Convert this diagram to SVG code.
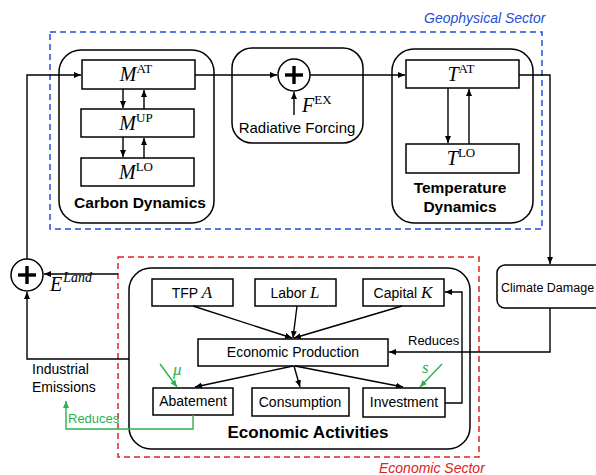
<svg xmlns="http://www.w3.org/2000/svg" width="596" height="475" viewBox="0 0 596 475">
<style>
.box{fill:#fff;stroke:#000;stroke-width:1.5}
.rbox{fill:none;stroke:#000;stroke-width:1.5}
.sans{font-family:"Liberation Sans",Arial,sans-serif;fill:#000}
.t14{font-size:14px}
.t13{font-size:13px}
.bold{font-weight:bold}
.math{font-family:"Liberation Serif","Times New Roman",serif;fill:#000}
.ln{fill:none;stroke:#000;stroke-width:1.4}
.gln{fill:none;stroke:#2eb04f;stroke-width:1.4}
.circ{fill:#fff;stroke:#000;stroke-width:1.5}
.plus{stroke:#000;stroke-width:3.4;stroke-linecap:butt}
</style>
<defs>
<marker id="ar" markerUnits="userSpaceOnUse" markerWidth="8" markerHeight="7" refX="7" refY="3" orient="auto">
<path d="M0,0 L7,3 L0,6 z" fill="#000"/>
</marker>
<marker id="ag" markerUnits="userSpaceOnUse" markerWidth="8" markerHeight="7" refX="7" refY="3" orient="auto">
<path d="M0,0 L7,3 L0,6 z" fill="#2eb04f"/>
</marker>
</defs>
<rect width="596" height="475" fill="#fff"/>

<g id="geophysical-sector">
<rect x="50" y="32" width="492" height="197" fill="none" stroke="#1f4fd6" stroke-width="1.5" stroke-dasharray="6,4"/>
<text x="424" y="23" class="sans t14" font-style="italic" style="fill:#1f4fd6">Geophysical Sector</text>
</g>
<g id="economic-sector">
<rect x="118" y="257" width="361" height="200" fill="none" stroke="#e02222" stroke-width="1.5" stroke-dasharray="6,4"/>
<text x="379" y="473" class="sans t14" font-style="italic" style="fill:#e02222">Economic Sector</text>
</g>

<g id="carbon-dynamics">
<rect x="59" y="50" width="155" height="173" rx="22" class="rbox"/>
<text x="140" y="208" text-anchor="middle" class="sans bold" font-size="15.5">Carbon Dynamics</text>
</g>
<g id="m-at">
<rect x="82" y="60" width="113" height="29" class="box"/>
<text x="136" y="81" text-anchor="middle" class="math"><tspan font-style="italic" font-size="20">M</tspan><tspan font-size="13" dy="-8">AT</tspan></text>
</g>
<g id="m-up">
<rect x="81" y="109" width="113" height="28" class="box"/>
<text x="136" y="130" text-anchor="middle" class="math"><tspan font-style="italic" font-size="20">M</tspan><tspan font-size="13" dy="-8">UP</tspan></text>
</g>
<g id="m-lo">
<rect x="81" y="158" width="113" height="28" class="box"/>
<text x="136" y="179" text-anchor="middle" class="math"><tspan font-style="italic" font-size="20">M</tspan><tspan font-size="13" dy="-8">LO</tspan></text>
</g>

<g id="radiative-forcing">
<rect x="232" y="48" width="131" height="95" rx="20" class="rbox"/>
<text x="297" y="133" text-anchor="middle" class="sans" font-size="15">Radiative Forcing</text>
</g>
<g id="sum-rf">
<circle cx="294" cy="75" r="16" class="circ"/>
<line x1="285" y1="75" x2="303" y2="75" class="plus"/>
<line x1="294" y1="66" x2="294" y2="84" class="plus"/>
</g>
<g id="f-ex">
<text x="302" y="112" class="math"><tspan font-style="italic" font-size="20">F</tspan><tspan font-size="13" dy="-8">EX</tspan></text>
</g>

<g id="temperature-dynamics">
<rect x="392" y="49" width="141" height="174" rx="22" class="rbox"/>
<text x="460" y="193" text-anchor="middle" class="sans bold" font-size="15.5">Temperature</text>
<text x="460" y="212" text-anchor="middle" class="sans bold" font-size="15.5">Dynamics</text>
</g>
<g id="t-at">
<rect x="406" y="60" width="113" height="28" class="box"/>
<text x="461" y="81" text-anchor="middle" class="math"><tspan font-style="italic" font-size="20">T</tspan><tspan font-size="13" dy="-8">AT</tspan></text>
</g>
<g id="t-lo">
<rect x="406" y="144" width="113" height="29" class="box"/>
<text x="461" y="165" text-anchor="middle" class="math"><tspan font-style="italic" font-size="20">T</tspan><tspan font-size="13" dy="-8">LO</tspan></text>
</g>

<g id="climate-damage">
<rect x="497" y="265" width="110" height="43" rx="8" class="box"/>
<text x="501" y="292" class="sans" font-size="12.5">Climate Damage</text>
</g>

<g id="economic-activities">
<rect x="129" y="268" width="341" height="181" rx="22" class="rbox"/>
<text x="308" y="438" text-anchor="middle" class="sans bold" font-size="17">Economic Activities</text>
</g>
<g id="tfp">
<rect x="152" y="279" width="81" height="27" class="box"/>
<text x="192" y="298" text-anchor="middle" class="sans t14">TFP <tspan class="math" font-style="italic" font-size="17">A</tspan></text>
</g>
<g id="labor">
<rect x="255" y="279" width="81" height="27" class="box"/>
<text x="295" y="298" text-anchor="middle" class="sans t14">Labor <tspan class="math" font-style="italic" font-size="17">L</tspan></text>
</g>
<g id="capital">
<rect x="363" y="279" width="81" height="27" class="box"/>
<text x="403" y="298" text-anchor="middle" class="sans t14">Capital <tspan class="math" font-style="italic" font-size="17">K</tspan></text>
</g>
<g id="economic-production">
<rect x="198" y="339" width="190" height="27" class="box"/>
<text x="293" y="357" text-anchor="middle" class="sans t14">Economic Production</text>
</g>
<g id="abatement">
<rect x="153" y="388" width="80" height="27" class="box"/>
<text x="193" y="406" text-anchor="middle" class="sans t14">Abatement</text>
</g>
<g id="consumption">
<rect x="252" y="388" width="97" height="28" class="box"/>
<text x="300" y="407" text-anchor="middle" class="sans t14">Consumption</text>
</g>
<g id="investment">
<rect x="363" y="388" width="82" height="29" class="box"/>
<text x="404" y="407" text-anchor="middle" class="sans t14">Investment</text>
</g>

<g id="sum-emissions">
<circle cx="27" cy="275" r="16" class="circ"/>
<line x1="18" y1="275" x2="36" y2="275" class="plus"/>
<line x1="27" y1="266" x2="27" y2="284" class="plus"/>
</g>
<g id="e-land">
<text x="50" y="291" class="math"><tspan font-style="italic" font-size="20">E</tspan><tspan font-style="italic" font-size="14" dx="1" dy="-9">Land</tspan></text>
</g>
<g id="industrial-emissions">
<text x="32" y="374" class="sans t14">Industrial</text>
<text x="32" y="392" class="sans t14">Emissions</text>
</g>

<g id="connectors">
<path d="M27,259 V75 H81" class="ln" marker-end="url(#ar)"/>
<line x1="123" y1="89" x2="123" y2="108" class="ln" marker-end="url(#ar)"/>
<line x1="144" y1="109" x2="144" y2="90" class="ln" marker-end="url(#ar)"/>
<line x1="123" y1="137" x2="123" y2="157" class="ln" marker-end="url(#ar)"/>
<line x1="144" y1="158" x2="144" y2="138" class="ln" marker-end="url(#ar)"/>
<line x1="195" y1="75" x2="277" y2="75" class="ln" marker-end="url(#ar)"/>
<line x1="294" y1="115" x2="294" y2="92" class="ln" marker-end="url(#ar)"/>
<line x1="310" y1="75" x2="405" y2="75" class="ln" marker-end="url(#ar)"/>
<line x1="448" y1="88" x2="448" y2="143" class="ln" marker-end="url(#ar)"/>
<line x1="469" y1="144" x2="469" y2="89" class="ln" marker-end="url(#ar)"/>
<path d="M519,75 H550 V264" class="ln" marker-end="url(#ar)"/>
<path d="M550,308 V352 H389" class="ln" marker-end="url(#ar)"/>
<text x="408" y="345" class="sans t13">Reduces</text>
<line x1="193" y1="306" x2="292" y2="338" class="ln" marker-end="url(#ar)"/>
<line x1="297" y1="306" x2="293" y2="338" class="ln" marker-end="url(#ar)"/>
<line x1="402" y1="306" x2="294" y2="338" class="ln" marker-end="url(#ar)"/>
<line x1="293" y1="366" x2="195" y2="387" class="ln" marker-end="url(#ar)"/>
<line x1="294" y1="366" x2="300" y2="387" class="ln" marker-end="url(#ar)"/>
<line x1="295" y1="366" x2="403" y2="387" class="ln" marker-end="url(#ar)"/>
<path d="M445,403 H462 V292 H445" class="ln" marker-end="url(#ar)"/>
<path d="M129,359 H27 V292" class="ln" marker-end="url(#ar)"/>
<line x1="118" y1="274" x2="44" y2="274" class="ln" marker-end="url(#ar)"/>
<line x1="160" y1="364" x2="177" y2="387" class="gln" marker-end="url(#ag)"/>
<text x="173" y="375" class="math" font-style="italic" font-size="17" style="fill:#2eb04f">μ</text>
<line x1="442" y1="364" x2="420" y2="387" class="gln" marker-end="url(#ag)"/>
<text x="422" y="373" class="math" font-style="italic" font-size="17" style="fill:#2eb04f">s</text>
<path d="M193,415 V429 H66 V401" class="gln" marker-end="url(#ag)"/>
<text x="68" y="423" class="sans t13" style="fill:#2eb04f">Reduces</text>
</g>
</svg>
